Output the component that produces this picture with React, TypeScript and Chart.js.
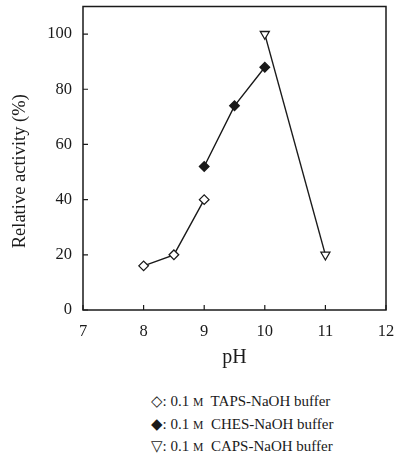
import React, { useEffect, useRef } from "react";
import { Chart, registerables } from "chart.js";

Chart.register(...registerables);

const tapsPH = [8, 8.5, 9];
const tapsActivity = [16, 20, 40];
const chesPH = [9, 9.5, 10];
const chesActivity = [52, 74, 88];
const capsPH = [10, 11];
const capsActivity = [100, 20];
const xTicks = [7, 8, 9, 10, 11, 12];
const yTicks = [0, 20, 40, 60, 80, 100];
const yTitle = "Relative activity (%)";
const legendRows = [
  { sym: "\u25C7", name: "TAPS-NaOH buffer" },
  { sym: "\u25C6", name: "CHES-NaOH buffer" },
  { sym: "\u25BD", name: "CAPS-NaOH buffer" },
];

const SERIF = "'Liberation Serif', 'DejaVu Serif', serif";
const INK = "#1a1a1a";

const toPts = (xs: number[], ys: number[]) => xs.map((x, i) => ({ x, y: ys[i] }));

const frame = {
  id: "frame",
  afterDraw(chart: any) {
    const { ctx, chartArea: a, scales } = chart;
    ctx.save();
    ctx.strokeStyle = INK;
    ctx.lineWidth = 1.5;
    ctx.strokeRect(a.left, a.top, a.right - a.left, a.bottom - a.top);
    ctx.lineWidth = 1.2;
    const tl = 5;
    ctx.beginPath();
    for (const v of xTicks) {
      const px = scales.x.getPixelForValue(v);
      ctx.moveTo(px, a.bottom);
      ctx.lineTo(px, a.bottom - tl);
    }
    for (const v of yTicks) {
      const py = scales.y.getPixelForValue(v);
      ctx.moveTo(a.left, py);
      ctx.lineTo(a.left + tl, py);
    }
    ctx.stroke();
    // y axis title
    ctx.fillStyle = INK;
    ctx.font = `18.5px ${SERIF}`;
    ctx.textAlign = "center";
    ctx.textBaseline = "middle";
    ctx.translate(20, (a.top + a.bottom) / 2 + 13);
    ctx.rotate(-Math.PI / 2);
    ctx.fillText(yTitle, 0, 0);
    ctx.restore();
  },
};

export default function App() {
  const ref = useRef<HTMLCanvasElement>(null);
  useEffect(() => {
    if (!ref.current) return;
    const common = {
      showLine: true,
      borderColor: INK,
      borderWidth: 1.4,
      pointRadius: 4.8,
      pointBorderWidth: 1.3,
      pointBorderColor: INK,
    };
    const chart = new Chart(ref.current, {
      type: "scatter",
      data: {
        datasets: [
          {
            ...common,
            data: toPts(tapsPH, tapsActivity),
            pointStyle: "rectRot",
            pointBackgroundColor: "#fff",
          },
          {
            ...common,
            data: toPts(chesPH, chesActivity),
            pointStyle: "rectRot",
            pointBackgroundColor: INK,
          },
          {
            ...common,
            data: toPts(capsPH, capsActivity),
            pointStyle: "triangle",
            pointRotation: 180,
            pointRadius: 5.2,
            pointBackgroundColor: "#fff",
          },
        ] as any,
      },
      options: {
        animation: false,
        responsive: false,
        maintainAspectRatio: false,
        layout: { padding: { left: 0, top: 6, right: 9, bottom: 0 } },
        plugins: { legend: { display: false }, tooltip: { enabled: false } },
        scales: {
          x: {
            type: "linear",
            min: 7,
            max: 12,
            afterBuildTicks: (s: any) => {
              s.ticks = xTicks.map((v) => ({ value: v }));
            },
            afterFit: (s: any) => {
              s.height = 70;
              s.paddingLeft = 0;
              s.paddingRight = 0;
            },
            grid: { display: false, drawTicks: false },
            border: { display: false },
            ticks: { color: INK, padding: 12, font: { family: SERIF, size: 16.5 } },
            title: {
              display: true,
              text: "pH",
              color: INK,
              font: { family: SERIF, size: 20 },
              padding: { top: 0, bottom: 10 },
            },
          },
          y: {
            type: "linear",
            min: 0,
            max: 110,
            afterBuildTicks: (s: any) => {
              s.ticks = yTicks.map((v) => ({ value: v }));
            },
            afterFit: (s: any) => {
              s.width = 83;
              s.paddingTop = 0;
              s.paddingBottom = 0;
            },
            grid: { display: false, drawTicks: false },
            border: { display: false },
            ticks: { color: INK, padding: 11, font: { family: SERIF, size: 16.5 } },
            title: { display: false },
          },
        },
      },
      plugins: [frame],
    });
    return () => chart.destroy();
  }, []);

  return (
    <div style={{ position: "absolute", left: 0, top: 0, width: 395, height: 457, background: "#fff" }}>
      <canvas ref={ref} width={395} height={380} style={{ display: "block" }} />
      <div
        style={{
          position: "absolute",
          left: 151,
          top: 391,
          fontFamily: SERIF,
          fontSize: 15,
          color: INK,
          lineHeight: "21.5px",
        }}
      >
        {legendRows.map((r) => (
          <div key={r.name} style={{ whiteSpace: "nowrap" }}>
            <span>{r.sym}</span>: 0.1 <span style={{ fontSize: "0.78em" }}>M</span>&nbsp; {r.name}
          </div>
        ))}
      </div>
    </div>
  );
}
